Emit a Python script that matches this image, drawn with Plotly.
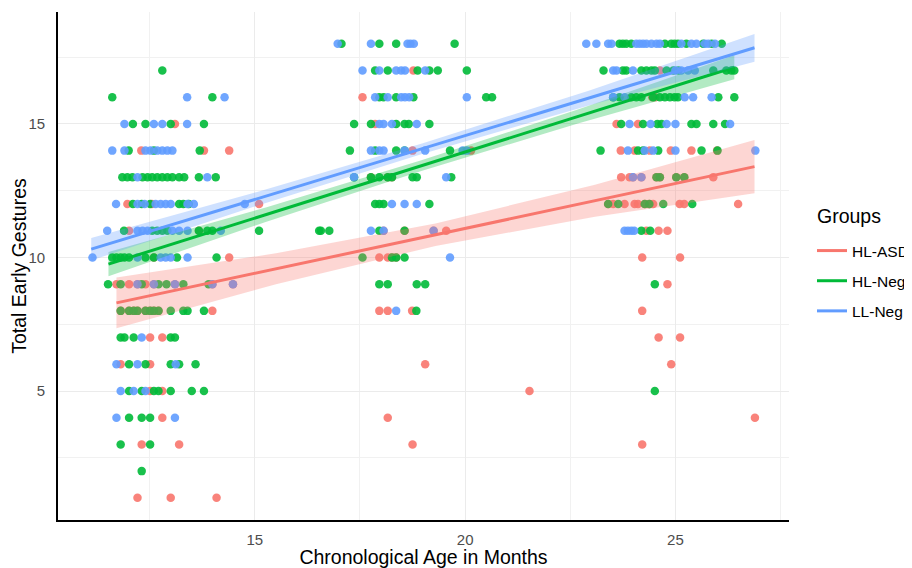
import plotly.graph_objects as go

# ---------------- data ----------------
group_names = ["HL-ASD", "HL-Neg", "LL-Neg"]
group_colors = ["#F8766D", "#00BA38", "#619CFF"]
legend_title = "Groups"

# (age in months, total early gestures)
hl_asd_points = [
    (13.10, 15), (12.30, 14), (13.79, 14), (14.39, 14),
    (11.97, 12), (12.55, 12), (15.10, 12),
    (12.01, 11), (13.67, 11),
    (12.60, 10), (14.39, 10),
    (11.71, 9), (12.01, 9), (12.21, 9), (12.40, 9), (12.60, 9), (13.10, 9), (13.99, 9), (14.48, 9),
    (11.81, 8), (12.01, 8), (12.12, 8), (12.21, 8), (12.40, 8), (12.51, 8), (12.60, 8), (12.71, 8), (13.99, 8),
    (12.51, 7), (12.80, 7),
    (11.81, 6), (12.51, 6),
    (12.51, 5), (12.80, 5),
    (12.80, 4),
    (12.31, 3), (13.20, 3),
    (12.21, 1), (13.00, 1), (14.09, 1),
    (18.77, 17), (17.56, 16), (17.86, 15), (18.75, 14), (20.14, 14),
    (17.76, 13), (18.16, 13), (18.26, 13),
    (18.06, 11), (18.56, 11), (19.25, 11), (19.55, 11),
    (17.96, 10), (18.16, 10), (18.26, 10), (18.36, 10),
    (17.96, 8), (18.16, 8), (18.74, 8),
    (19.05, 6), (21.53, 5), (18.16, 4), (18.75, 3),
    (24.63, 17), (24.45, 16), (24.52, 16), (23.60, 15), (24.11, 15),
    (23.70, 14), (24.03, 14), (24.39, 14), (24.89, 14), (25.38, 14), (25.99, 14),
    (23.71, 13), (23.91, 13), (23.99, 13), (24.19, 13), (24.55, 13), (24.63, 13), (25.02, 13), (25.21, 13), (25.90, 13),
    (23.40, 12), (23.52, 12), (23.79, 12), (24.03, 12), (24.11, 12), (24.27, 12), (24.38, 12), (24.47, 12),
    (25.10, 12), (25.21, 12), (26.49, 12),
    (24.31, 11), (24.60, 11), (24.81, 11),
    (24.21, 10), (25.11, 10), (24.81, 9), (24.21, 8), (24.60, 7), (25.11, 7), (24.90, 6), (26.89, 4), (24.21, 3),
]

hl_neg_points = [
    (12.80, 17), (11.61, 16), (13.99, 16),
    (12.10, 15), (12.40, 15), (13.00, 15), (13.79, 15),
    (12.00, 14), (12.60, 14), (13.69, 14),
    (11.85, 13), (11.97, 13), (12.09, 13), (12.33, 13), (12.45, 13), (12.56, 13), (12.68, 13), (12.80, 13),
    (12.92, 13), (13.04, 13), (13.20, 13), (13.32, 13), (13.67, 13), (14.07, 13),
    (12.10, 12), (12.31, 12), (12.51, 12), (13.20, 12), (13.30, 12), (13.43, 12),
    (11.89, 11), (12.56, 11), (12.68, 11), (12.80, 11), (12.92, 11), (13.67, 11), (13.87, 11), (13.99, 11),
    (15.10, 11), (16.53, 11),
    (11.61, 10), (11.71, 10), (11.81, 10), (11.90, 10), (12.01, 10), (12.40, 10), (12.60, 10), (13.15, 10), (14.09, 10),
    (11.51, 9), (11.81, 9), (12.31, 9), (12.71, 9), (12.90, 9), (13.30, 9), (13.90, 9),
    (11.81, 8), (12.01, 8), (12.12, 8), (12.21, 8), (12.40, 8), (12.51, 8), (12.60, 8), (12.71, 8),
    (13.00, 8), (13.30, 8), (13.40, 8), (13.79, 8),
    (11.81, 7), (11.90, 7), (12.12, 7), (13.00, 7), (13.10, 7),
    (12.01, 6), (12.40, 6), (13.00, 6), (13.20, 6), (13.59, 6),
    (12.01, 5), (12.31, 5), (12.60, 5), (12.71, 5), (13.00, 5), (13.50, 5), (13.79, 5),
    (12.01, 4), (12.31, 4), (12.51, 4),
    (11.81, 3), (12.51, 3), (12.31, 2),
    (17.06, 18), (17.96, 18), (18.36, 18), (19.75, 18),
    (17.86, 17), (18.16, 17), (18.87, 17), (19.15, 17), (19.35, 17), (20.04, 17),
    (17.96, 16), (18.06, 16), (18.36, 16), (18.77, 16), (20.50, 16), (20.64, 16),
    (17.36, 15), (17.76, 15), (18.36, 15), (18.56, 15), (18.66, 15), (19.15, 15),
    (17.26, 14), (17.86, 14), (18.36, 14), (18.56, 14), (19.64, 14),
    (17.36, 13), (17.76, 13), (17.96, 13), (18.16, 13), (18.26, 13), (18.75, 13), (18.85, 13), (19.67, 13),
    (17.86, 12), (17.96, 12), (18.06, 12), (19.15, 12),
    (16.57, 11), (16.77, 11), (17.96, 11), (18.56, 11),
    (17.56, 10), (18.26, 10), (18.36, 10), (18.56, 10),
    (17.96, 9), (18.16, 9), (18.85, 9), (19.05, 9), (18.84, 8),
    (23.67, 18), (23.75, 18), (23.83, 18), (23.95, 18), (24.75, 18), (24.90, 18), (24.98, 18), (25.06, 18),
    (25.26, 18), (25.66, 18), (25.86, 18), (26.10, 18),
    (23.29, 17), (23.75, 17), (23.83, 17), (24.19, 17), (24.31, 17), (24.43, 17), (24.51, 17), (24.79, 17),
    (24.95, 17), (25.07, 17), (25.90, 17), (26.21, 17), (26.33, 17), (26.40, 17),
    (23.52, 16), (23.67, 16), (23.95, 16), (24.07, 16), (24.19, 16), (24.47, 16), (24.63, 16), (24.75, 16),
    (24.87, 16), (24.98, 16), (25.06, 16), (26.02, 16), (26.40, 16),
    (23.71, 15), (24.23, 15), (24.57, 15), (24.67, 15), (25.38, 15), (25.50, 15), (25.90, 15), (26.18, 15),
    (23.22, 14), (24.11, 14), (24.23, 14), (24.59, 14), (25.62, 14), (26.00, 14),
    (24.55, 13), (24.63, 13), (25.02, 13), (25.21, 13),
    (23.40, 12), (23.64, 12), (24.27, 12), (24.38, 12), (24.71, 12), (25.40, 12),
    (24.19, 11), (24.40, 11), (24.51, 9), (24.51, 5),
]

ll_neg_points = [
    (13.39, 16), (14.28, 16),
    (11.90, 15), (12.60, 15), (12.80, 15), (13.39, 15),
    (11.61, 14), (11.90, 14), (12.40, 14), (12.52, 14), (12.68, 14), (12.80, 14), (12.92, 14), (13.04, 14),
    (12.21, 13), (13.87, 13),
    (11.70, 12), (12.21, 12), (12.38, 12), (12.64, 12), (12.76, 12), (12.88, 12), (13.00, 12), (13.40, 12),
    (13.55, 12), (14.76, 12),
    (11.49, 11), (12.21, 11), (12.33, 11), (12.45, 11), (13.04, 11), (13.20, 11), (13.40, 11), (14.19, 11),
    (11.14, 10), (12.21, 10), (12.76, 10), (12.88, 10), (13.00, 10), (13.40, 10),
    (12.21, 9), (12.60, 9), (13.10, 9), (13.99, 9), (14.48, 9),
    (12.31, 7), (11.71, 6), (12.21, 6), (13.12, 6),
    (11.81, 5), (12.12, 5), (12.40, 5), (11.71, 4), (13.10, 4),
    (16.97, 18), (17.76, 18), (18.63, 18), (18.70, 18), (18.78, 18),
    (17.56, 17), (17.96, 17), (18.36, 17), (18.48, 17), (18.57, 17), (19.05, 17),
    (17.86, 16), (18.16, 16), (18.48, 16), (18.57, 16), (18.67, 16), (20.04, 16),
    (17.96, 15), (18.06, 15), (18.26, 15), (18.85, 15),
    (17.76, 14), (17.96, 14), (18.06, 14), (18.56, 14), (19.05, 14), (19.94, 14), (20.04, 14),
    (17.36, 13), (19.55, 13),
    (18.26, 12), (18.56, 12), (18.85, 12),
    (17.76, 11), (18.06, 11), (19.25, 11), (19.64, 10), (18.36, 8),
    (22.88, 18), (23.12, 18), (23.40, 18), (23.48, 18), (24.07, 18), (24.15, 18), (24.23, 18), (24.31, 18),
    (24.43, 18), (24.55, 18), (24.63, 18), (25.14, 18), (25.38, 18), (25.50, 18), (25.70, 18), (25.78, 18), (25.94, 18),
    (23.52, 17), (23.60, 17), (23.99, 17), (25.00, 17), (25.14, 17), (25.30, 17), (25.46, 17),
    (23.52, 16), (23.79, 16), (25.22, 16), (25.42, 16), (25.86, 16),
    (23.91, 15), (24.41, 15), (24.79, 15), (25.00, 15), (26.30, 15),
    (23.87, 14), (24.27, 14), (24.47, 14), (25.00, 14), (26.90, 14),
    (23.99, 13), (24.19, 13),
    (23.79, 11), (23.87, 11), (23.95, 11), (24.02, 11),
]

# linear fits: start / end of each fitted line
fit_x_start = [11.71, 11.52, 11.11]
fit_x_end = [26.88, 26.40, 26.88]
fit_y_start = [8.30, 9.75, 10.31]
fit_y_end = [13.40, 17.12, 17.85]
# 95% confidence band half-width, read at 0, 1/4, 1/2, 3/4 and the end of each line
ci_fractions = [0.0, 0.25, 0.5, 0.75, 1.0]
ci_half_asd = [0.95, 0.58, 0.42, 0.60, 1.00]
ci_half_hlneg = [0.45, 0.27, 0.20, 0.26, 0.45]
ci_half_llneg = [0.42, 0.26, 0.20, 0.28, 0.52]

x_ticks = [15, 20, 25]
y_ticks = [5, 10, 15]

# ---------------- figure ----------------
FONT = "Liberation Sans, Arial, Helvetica, sans-serif"

# the page body has an 8 px margin, so the figure is placed at (8, 8)
W, H = 904, 560
PLOT_L, PLOT_R, PLOT_T, PLOT_B = 58 - 8, 789 - 8, 12 - 8, 520 - 8  # plot area in figure pixels


def rgba(hex_color, a):
    h = hex_color.lstrip("#")
    r, g, b = int(h[0:2], 16), int(h[2:4], 16), int(h[4:6], 16)
    return f"rgba({r},{g},{b},{a})"


def paper_x(px):
    return (px - PLOT_L) / (PLOT_R - PLOT_L)


def paper_y(py):
    return (PLOT_B - py) / (PLOT_B - PLOT_T)


fig = go.Figure()

all_points = [hl_asd_points, hl_neg_points, ll_neg_points]
for name, color, pts in zip(group_names, group_colors, all_points):
    fig.add_trace(go.Scatter(
        x=[p[0] for p in pts], y=[p[1] for p in pts],
        mode="markers", name=name, showlegend=False, legendgroup=name,
        marker=dict(size=8.5, color=color, opacity=0.9, line=dict(width=0)),
    ))

ci_all = [ci_half_asd, ci_half_hlneg, ci_half_llneg]
for i, (name, color) in enumerate(zip(group_names, group_colors)):
    x0, x1 = fit_x_start[i], fit_x_end[i]
    y0, y1 = fit_y_start[i], fit_y_end[i]
    bx = [x0 + f * (x1 - x0) for f in ci_fractions]
    by = [y0 + f * (y1 - y0) for f in ci_fractions]
    upper = [y + h for y, h in zip(by, ci_all[i])]
    lower = [y - h for y, h in zip(by, ci_all[i])]
    fig.add_trace(go.Scatter(
        x=bx + bx[::-1], y=upper + lower[::-1],
        mode="lines", fill="toself", fillcolor=rgba(color, 0.3),
        line=dict(width=0), showlegend=False, hoverinfo="skip", legendgroup=name,
    ))
    fig.add_trace(go.Scatter(
        x=[x0, x1], y=[y0, y1], mode="lines", name=name, legendgroup=name,
        line=dict(color=color, width=3),
    ))

axis_common = dict(
    showgrid=True, gridcolor="#EBEBEB", gridwidth=1.1,
    zeroline=False, showline=True, linecolor="black", linewidth=1.6,
    ticks="outside", tickcolor="rgba(0,0,0,0)", automargin=False,
    tickfont=dict(family=FONT, size=15, color="#4D4D4D"),
)

fig.update_layout(
    width=W, height=H,
    margin=dict(l=PLOT_L, r=W - PLOT_R, t=PLOT_T, b=H - PLOT_B, autoexpand=False),
    paper_bgcolor="white", plot_bgcolor="white",
    font=dict(family=FONT, color="black"),
    xaxis=dict(
        range=[10.32, 27.7], tickvals=x_ticks, ticklen=5,
        minor=dict(tickvals=[12.5, 17.5, 22.5, 27.5], showgrid=True, gridcolor="#F1F1F1", gridwidth=0.9),
        title=dict(text="Chronological Age in Months", font=dict(family=FONT, size=19.5, color="black"), standoff=0),
        **axis_common,
    ),
    yaxis=dict(
        range=[0.17, 19.19], tickvals=y_ticks, ticklen=8,
        minor=dict(tickvals=[2.5, 7.5, 12.5, 17.5], showgrid=True, gridcolor="#F1F1F1", gridwidth=0.9),
        title=dict(text="Total Early Gestures", font=dict(family=FONT, size=19.5, color="black"), standoff=0),
        **axis_common,
    ),
    legend=dict(
        x=paper_x(812 - 8), xanchor="left", y=paper_y(234 - 8), yanchor="top",
        font=dict(family=FONT, size=15.5, color="black"),
        tracegroupgap=7, bgcolor="rgba(0,0,0,0)",
    ),
    showlegend=True,
    annotations=[dict(
        text=legend_title, xref="paper", yref="paper",
        x=paper_x(815 - 8), y=paper_y(216 - 8), xanchor="left", yanchor="middle",
        showarrow=False, font=dict(family=FONT, size=19.5, color="black"),
    )],
)

fig.write_html("out.html")
